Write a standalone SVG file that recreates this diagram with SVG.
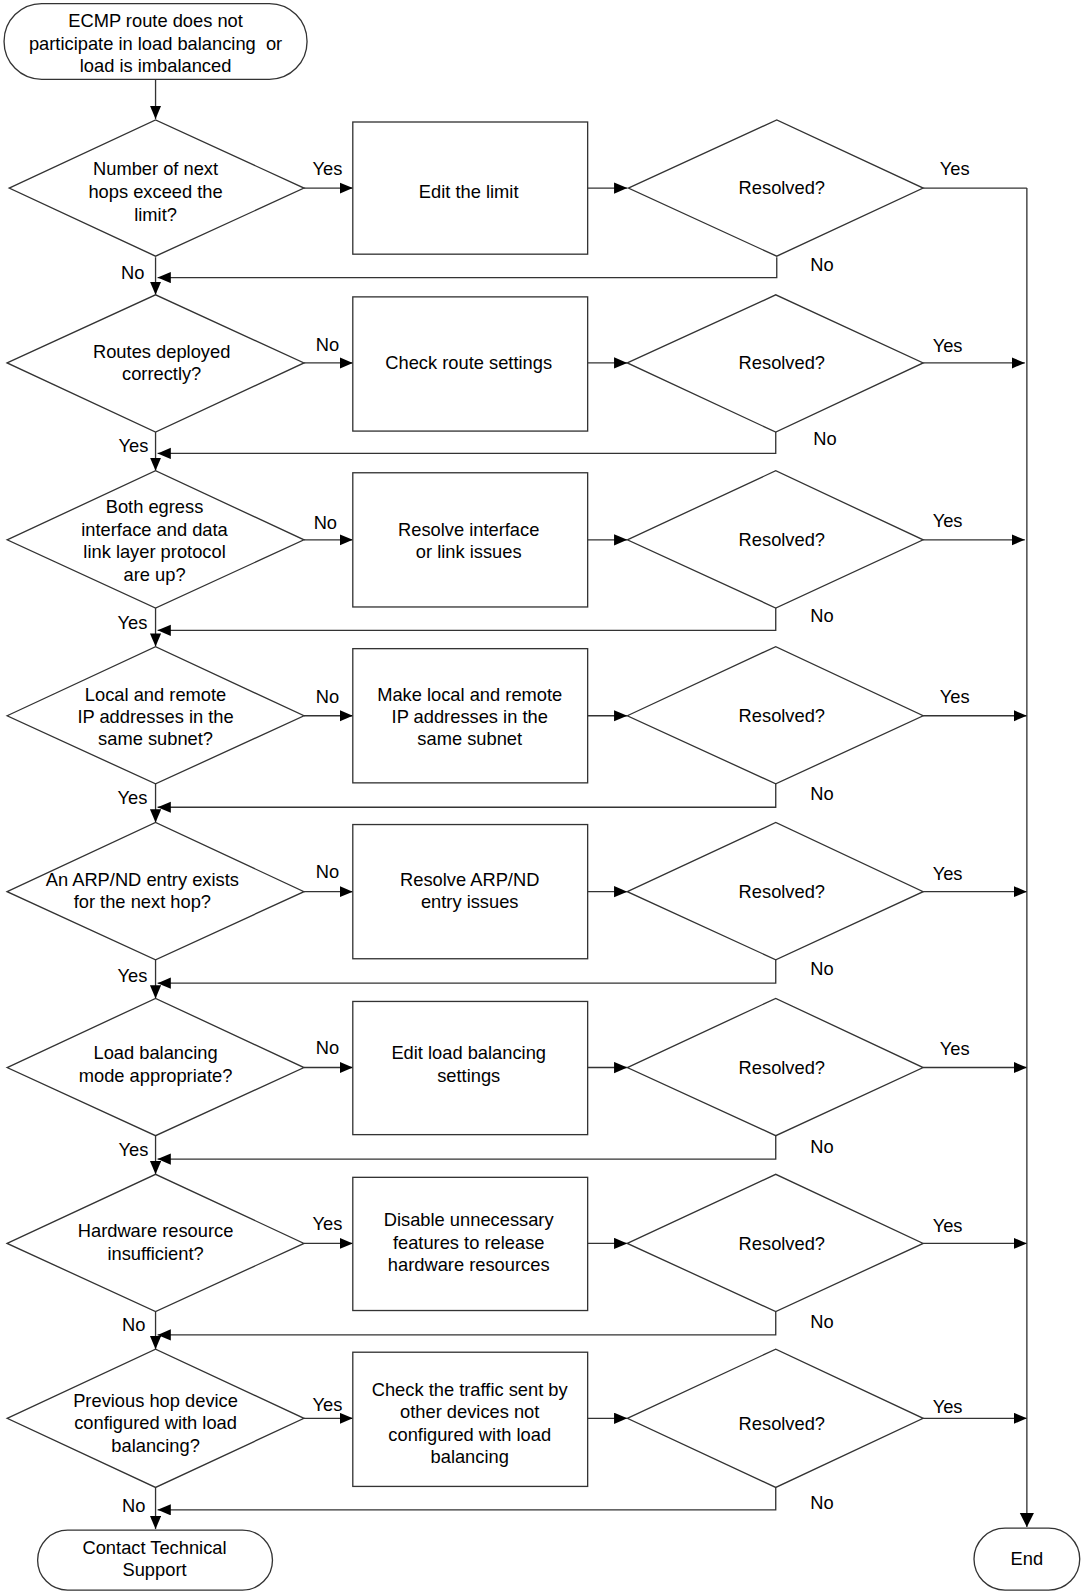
<svg xmlns="http://www.w3.org/2000/svg" width="1084" height="1594" viewBox="0 0 1084 1594">
<defs>
<marker id="ah" markerUnits="userSpaceOnUse" markerWidth="14" markerHeight="12" refX="13" refY="5.5" orient="auto"><path d="M0,0 L13,5.5 L0,11 z" fill="#000"/></marker>
<marker id="ah2" markerUnits="userSpaceOnUse" markerWidth="15" markerHeight="15" refX="14" refY="7" orient="auto"><path d="M0,0 L14,7 L0,14 z" fill="#000"/></marker>
<style>
.s{fill:#fff;stroke:#333;stroke-width:1.3}
.c{fill:none;stroke:#333;stroke-width:1.3}
.a{fill:none;stroke:#333;stroke-width:1.3;marker-end:url(#ah)}
.a2{fill:none;stroke:#333;stroke-width:1.3;marker-end:url(#ah2)}
text{font-family:"Liberation Sans",Arial,sans-serif;font-size:18px;fill:#000}
.m{text-anchor:middle}
.e{text-anchor:end}
</style>
</defs>
<rect width="1084" height="1594" fill="#fff"/>
<g transform="scale(1.0167)">
<g id="connectors">
<line class="a" x1="153" y1="78" x2="153" y2="117"/>
<!-- row 1 -->
<line class="a" x1="299" y1="185" x2="347" y2="185"/>
<line class="a" x1="578" y1="185" x2="617" y2="185"/>
<polyline class="c" points="908,185 1010,185"/>
<polyline class="a" points="764,253 764,273 155,273"/>
<line class="a" x1="153" y1="253" x2="153" y2="290"/>
<!-- row 2 -->
<line class="a" x1="299" y1="357" x2="347" y2="357"/>
<line class="a" x1="578" y1="357" x2="617" y2="357"/>
<line class="a" x1="908" y1="357" x2="1008" y2="357"/>
<polyline class="a" points="763,425 763,446 155,446"/>
<line class="a" x1="153" y1="425" x2="153" y2="463"/>
<!-- row 3 -->
<line class="a" x1="299" y1="531" x2="347" y2="531"/>
<line class="a" x1="578" y1="531" x2="617" y2="531"/>
<line class="a" x1="908" y1="531" x2="1008" y2="531"/>
<polyline class="a" points="763,598 763,620 155,620"/>
<line class="a" x1="153" y1="598" x2="153" y2="636"/>
<!-- row 4 -->
<line class="a" x1="299" y1="704" x2="347" y2="704"/>
<line class="a" x1="578" y1="704" x2="617" y2="704"/>
<line class="a" x1="908" y1="704" x2="1010" y2="704"/>
<polyline class="a" points="763,771 763,794 155,794"/>
<line class="a" x1="153" y1="771" x2="153" y2="809"/>
<!-- row 5 -->
<line class="a" x1="299" y1="877" x2="347" y2="877"/>
<line class="a" x1="578" y1="877" x2="617" y2="877"/>
<line class="a" x1="908" y1="877" x2="1010" y2="877"/>
<polyline class="a" points="763,944 763,967 155,967"/>
<line class="a" x1="153" y1="944" x2="153" y2="982"/>
<!-- row 6 -->
<line class="a" x1="299" y1="1050" x2="347" y2="1050"/>
<line class="a" x1="578" y1="1050" x2="617" y2="1050"/>
<line class="a" x1="908" y1="1050" x2="1010" y2="1050"/>
<polyline class="a" points="763,1117 763,1140 155,1140"/>
<line class="a" x1="153" y1="1117" x2="153" y2="1155"/>
<!-- row 7 -->
<line class="a" x1="299" y1="1223" x2="347" y2="1223"/>
<line class="a" x1="578" y1="1223" x2="617" y2="1223"/>
<line class="a" x1="908" y1="1223" x2="1010" y2="1223"/>
<polyline class="a" points="763,1290 763,1313 155,1313"/>
<line class="a" x1="153" y1="1290" x2="153" y2="1327"/>
<!-- row 8 -->
<line class="a" x1="299" y1="1395" x2="347" y2="1395"/>
<line class="a" x1="578" y1="1395" x2="617" y2="1395"/>
<line class="a" x1="908" y1="1395" x2="1010" y2="1395"/>
<polyline class="a" points="763,1463 763,1485 155,1485"/>
<line class="a" x1="153" y1="1463" x2="153" y2="1504"/>
<!-- right trunk -->
<line class="a2" x1="1010" y1="185" x2="1010" y2="1502"/>
</g>

<g id="labels">
<text class="m" x="322" y="172">Yes</text>
<text class="m" x="939" y="172">Yes</text>
<text x="797" y="267">No</text>
<text class="e" x="142" y="274">No</text>

<text class="m" x="322" y="345">No</text>
<text class="m" x="932" y="346">Yes</text>
<text x="800" y="438">No</text>
<text class="e" x="146" y="445">Yes</text>

<text class="m" x="320" y="520">No</text>
<text class="m" x="932" y="518">Yes</text>
<text x="797" y="612">No</text>
<text class="e" x="145" y="619">Yes</text>

<text class="m" x="322" y="691">No</text>
<text class="m" x="939" y="691">Yes</text>
<text x="797" y="787">No</text>
<text class="e" x="145" y="791">Yes</text>

<text class="m" x="322" y="864">No</text>
<text class="m" x="932" y="866">Yes</text>
<text x="797" y="959">No</text>
<text class="e" x="145" y="966">Yes</text>

<text class="m" x="322" y="1037">No</text>
<text class="m" x="939" y="1038">Yes</text>
<text x="797" y="1134">No</text>
<text class="e" x="146" y="1137">Yes</text>

<text class="m" x="322" y="1210">Yes</text>
<text class="m" x="932" y="1212">Yes</text>
<text x="797" y="1306">No</text>
<text class="e" x="143" y="1309">No</text>

<text class="m" x="322" y="1388">Yes</text>
<text class="m" x="932" y="1390">Yes</text>
<text x="797" y="1484">No</text>
<text class="e" x="143" y="1487">No</text>
</g>

<g id="start">
<rect class="s" x="4" y="3.5" width="298" height="74.5" rx="37" ry="37"/>
<text class="m" x="153" y="27">ECMP route does not</text>
<text class="m" x="153" y="49" xml:space="preserve">participate in load balancing  or</text>
<text class="m" x="153" y="71">load is imbalanced</text>
</g>

<g id="d1">
<polygon class="s" points="9,185 153,118 299,185 153,252"/>
<text class="m" x="153" y="172">Number of next</text>
<text class="m" x="153" y="195">hops exceed the</text>
<text class="m" x="153" y="217">limit?</text>
</g>
<g id="b1">
<rect class="s" x="347" y="120" width="231" height="130"/>
<text class="m" x="461" y="195">Edit the limit</text>
</g>
<g id="r1">
<polygon class="s" points="618,185 764,118 908,185 764,252"/>
<text class="m" x="769" y="191">Resolved?</text>
</g>

<g id="d2">
<polygon class="s" points="7,357 153,290 299,357 153,425"/>
<text class="m" x="159" y="352">Routes deployed</text>
<text class="m" x="159" y="374">correctly?</text>
</g>
<g id="b2">
<rect class="s" x="347" y="292" width="231" height="132"/>
<text class="m" x="461" y="363">Check route settings</text>
</g>
<g id="r2">
<polygon class="s" points="617,357 763,290 908,357 763,425"/>
<text class="m" x="769" y="363">Resolved?</text>
</g>

<g id="d3">
<polygon class="s" points="7,531 153,463 299,531 153,598"/>
<text class="m" x="152" y="505">Both egress</text>
<text class="m" x="152" y="527">interface and data</text>
<text class="m" x="152" y="549">link layer protocol</text>
<text class="m" x="152" y="571">are up?</text>
</g>
<g id="b3">
<rect class="s" x="347" y="465" width="231" height="132"/>
<text class="m" x="461" y="527">Resolve interface</text>
<text class="m" x="461" y="549">or link issues</text>
</g>
<g id="r3">
<polygon class="s" points="617,531 763,463 908,531 763,598"/>
<text class="m" x="769" y="537">Resolved?</text>
</g>

<g id="d4">
<polygon class="s" points="7,704 153,636 299,704 153,771"/>
<text class="m" x="153" y="689">Local and remote</text>
<text class="m" x="153" y="711">IP addresses in the</text>
<text class="m" x="153" y="733">same subnet?</text>
</g>
<g id="b4">
<rect class="s" x="347" y="638" width="231" height="132"/>
<text class="m" x="462" y="689">Make local and remote</text>
<text class="m" x="462" y="711">IP addresses in the</text>
<text class="m" x="462" y="733">same subnet</text>
</g>
<g id="r4">
<polygon class="s" points="617,704 763,636 908,704 763,771"/>
<text class="m" x="769" y="710">Resolved?</text>
</g>

<g id="d5">
<polygon class="s" points="7,877 153,809 299,877 153,944"/>
<text class="m" x="140" y="871">An ARP/ND entry exists</text>
<text class="m" x="140" y="893">for the next hop?</text>
</g>
<g id="b5">
<rect class="s" x="347" y="811" width="231" height="132"/>
<text class="m" x="462" y="871">Resolve ARP/ND</text>
<text class="m" x="462" y="893">entry issues</text>
</g>
<g id="r5">
<polygon class="s" points="617,877 763,809 908,877 763,944"/>
<text class="m" x="769" y="883">Resolved?</text>
</g>

<g id="d6">
<polygon class="s" points="7,1050 153,982 299,1050 153,1117"/>
<text class="m" x="153" y="1042">Load balancing</text>
<text class="m" x="153" y="1064">mode appropriate?</text>
</g>
<g id="b6">
<rect class="s" x="347" y="985" width="231" height="131"/>
<text class="m" x="461" y="1042">Edit load balancing</text>
<text class="m" x="461" y="1064">settings</text>
</g>
<g id="r6">
<polygon class="s" points="617,1050 763,982 908,1050 763,1117"/>
<text class="m" x="769" y="1056">Resolved?</text>
</g>

<g id="d7">
<polygon class="s" points="7,1223 153,1155 299,1223 153,1290"/>
<text class="m" x="153" y="1217">Hardware resource</text>
<text class="m" x="153" y="1239">insufficient?</text>
</g>
<g id="b7">
<rect class="s" x="347" y="1158" width="231" height="131"/>
<text class="m" x="461" y="1206">Disable unnecessary</text>
<text class="m" x="461" y="1228">features to release</text>
<text class="m" x="461" y="1250">hardware resources</text>
</g>
<g id="r7">
<polygon class="s" points="617,1223 763,1155 908,1223 763,1290"/>
<text class="m" x="769" y="1229">Resolved?</text>
</g>

<g id="d8">
<polygon class="s" points="7,1395 153,1327 299,1395 153,1463"/>
<text class="m" x="153" y="1384">Previous hop device</text>
<text class="m" x="153" y="1406">configured with load</text>
<text class="m" x="153" y="1428">balancing?</text>
</g>
<g id="b8">
<rect class="s" x="347" y="1330" width="231" height="132"/>
<text class="m" x="462" y="1373">Check the traffic sent by</text>
<text class="m" x="462" y="1395">other devices not</text>
<text class="m" x="462" y="1417">configured with load</text>
<text class="m" x="462" y="1439">balancing</text>
</g>
<g id="r8">
<polygon class="s" points="617,1395 763,1327 908,1395 763,1463"/>
<text class="m" x="769" y="1407">Resolved?</text>
</g>

<g id="support">
<rect class="s" x="37" y="1505" width="231" height="59" rx="29.5" ry="29.5"/>
<text class="m" x="152" y="1528">Contact Technical</text>
<text class="m" x="152" y="1550">Support</text>
</g>
<g id="end">
<rect class="s" x="958" y="1503" width="104" height="61" rx="30.5" ry="30.5"/>
<text class="m" x="1010" y="1539">End</text>
</g>
</g>
</svg>
